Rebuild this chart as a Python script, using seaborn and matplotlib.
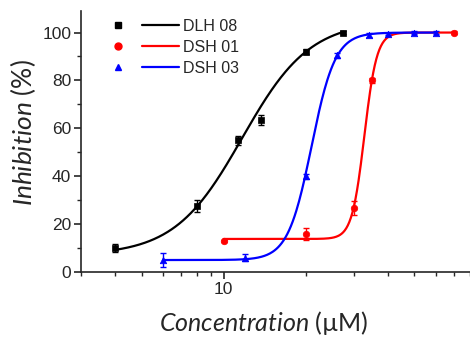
import numpy as np
import pandas as pd
import seaborn as sns
import matplotlib.pyplot as plt
from matplotlib.lines import Line2D
from matplotlib.legend_handler import HandlerTuple
from matplotlib.ticker import LogLocator, NullFormatter, FixedLocator, FixedFormatter

# measured points (concentration in uM, inhibition in %)
dlh08_x = [4, 8, 11.25, 13.7, 20, 27.5]
dlh08_y = [10, 27.5, 55, 63.5, 92, 100]
dlh08_err = [1.5, 2.5, 2, 2, 1, 0.5]

dsh01_x = [10, 20, 30, 35, 70]
dsh01_y = [13, 16, 26.8, 80, 100]
dsh01_err = [0.5, 2.5, 3, 1, 0.5]

dsh03_x = [6, 12, 20, 26, 34, 40, 50, 60]
dsh03_y = [5, 6, 40, 90.5, 99, 99.5, 100, 100]
dsh03_err = [3, 1.5, 1, 1, 1, 0.5, 0.5, 0.5]

# dose-response fit parameters: bottom, top, EC50, hill
dlh08_fit = [7, 105, 11.7, 3.5]
dsh01_fit = [13.8, 100, 32.8, 19]
dsh03_fit = [5, 100, 21.0, 10]

names = ['DLH 08', 'DSH 01', 'DSH 03']
colors = ['black', '#ff0000', '#0000ff']
markers = ['s', 'o', '^']


def hill(x, p):
    b, t, ec, n = p
    return b + (t - b) / (1 + (ec / x) ** n)


sns.set_style('ticks')
plt.rcParams['font.family'] = ['Liberation Sans', 'DejaVu Sans']
plt.rcParams['mathtext.fontset'] = 'custom'
plt.rcParams['mathtext.it'] = 'Lato:italic'
plt.rcParams['mathtext.rm'] = 'Lato'

fig = plt.figure(figsize=(4.7, 3.37), dpi=100)
ax = fig.add_axes([81 / 470, 1 - 272 / 337, 389 / 470, 261 / 337])

series = [(dlh08_x, dlh08_y, dlh08_err, dlh08_fit),
          (dsh01_x, dsh01_y, dsh01_err, dsh01_fit),
          (dsh03_x, dsh03_y, dsh03_err, dsh03_fit)]

handles = []
for (xs, ys, es, p), name, c, m in zip(series, names, colors, markers):
    xf = np.geomspace(min(xs), max(xs), 300)
    fit = pd.DataFrame({'x': xf, 'y': hill(xf, p)})
    sns.lineplot(data=fit, x='x', y='y', color=c, lw=1.6, ax=ax)
    pts = pd.DataFrame({'x': xs, 'y': ys})
    sns.scatterplot(data=pts, x='x', y='y', color=c, marker=m, s=22,
                    edgecolor=c, linewidth=0.5, ax=ax, zorder=3)
    ax.errorbar(xs, ys, yerr=es, fmt='none', ecolor=c, elinewidth=1,
                capsize=2, capthick=1, zorder=3)
    handles.append((Line2D([], [], ls='none', marker=m, color=c, ms=5),
                    Line2D([], [], color=c, lw=1.6)))

ax.set_xscale('log')
ax.set_xlim(3.0, 80)
ax.set_ylim(0, 109)
ax.xaxis.set_major_locator(FixedLocator([10]))
ax.xaxis.set_major_formatter(FixedFormatter(['10']))
ax.xaxis.set_minor_locator(LogLocator(base=10, subs=np.arange(2, 10)))
ax.xaxis.set_minor_formatter(NullFormatter())
ax.set_yticks([0, 20, 40, 60, 80, 100])
ax.set_yticks(np.arange(10, 110, 20), minor=True)

sns.despine(ax=ax)
for s in ['left', 'bottom']:
    ax.spines[s].set_linewidth(1.2)
ax.tick_params(which='major', length=5, width=1.2, labelsize=12.5, pad=2)
ax.tick_params(which='minor', length=3, width=1.0)

ax.set_ylabel('$\\mathit{Inhibition}$ (%)', fontsize=19, family='Lato')
ax.set_xlabel('$\\mathit{Concentration}$ (\u00b5M)', fontsize=18, family='Lato')
ax.yaxis.set_label_coords(-0.11, 0.533)
ax.xaxis.set_label_coords(0.47, -0.142)

ax.legend(handles, names, handler_map={tuple: HandlerTuple(ndivide=None, pad=0.34)},
          loc='upper left', bbox_to_anchor=(0.031, 0.995), frameon=False,
          fontsize=11.5, handlelength=5.0, handletextpad=0.25, labelspacing=0.38,
          borderaxespad=0)

fig.savefig('out.png', dpi=100)
